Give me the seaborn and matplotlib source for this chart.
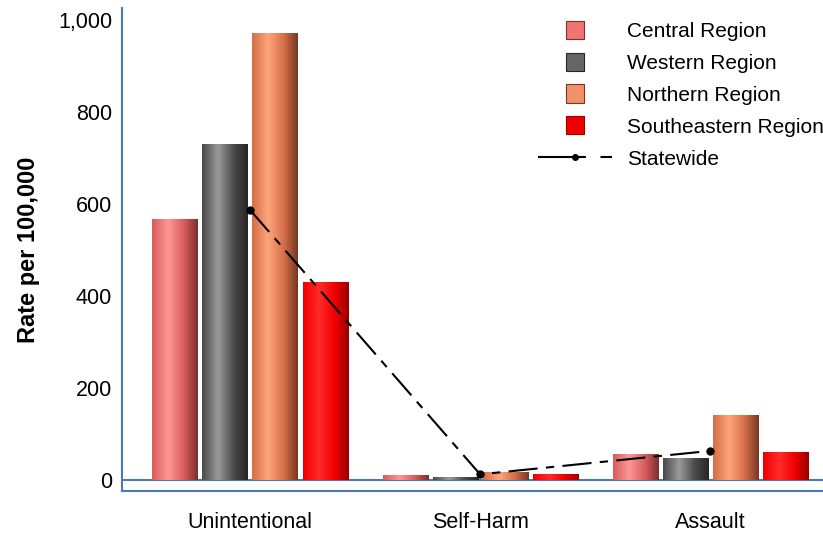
import numpy as np
import pandas as pd
import matplotlib.pyplot as plt
import seaborn as sns
from matplotlib.colors import LinearSegmentedColormap
from matplotlib.patches import Patch, Rectangle
from matplotlib.lines import Line2D
from matplotlib.legend_handler import HandlerPatch

# data
categories = ['Unintentional', 'Self-Harm', 'Assault']
regions = ['Central Region', 'Western Region', 'Northern Region', 'Southeastern Region']
central = [567, 10, 56]
western = [730, 7, 48]
northern = [972, 18, 140]
southeastern = [430, 12, 60]
statewide = [587, 12, 63]
yticks = [0, 200, 400, 600, 800, 1000]
ytick_labels = ['0', '200', '400', '600', '800', '1,000']

# bar colours: (base, highlight, right shadow)
shades = {
    'Central Region': ('#d85c5c', '#ff9696', '#7e2f2f'),
    'Western Region': ('#4a4a4a', '#9a9a9a', '#262626'),
    'Northern Region': ('#d46e48', '#ffa57c', '#773824'),
    'Southeastern Region': ('#f00000', '#ff2a2a', '#9a0000'),
}
mid_colors = ['#f07474', '#666666', '#f39068', '#ee0000']

df = pd.DataFrame({
    'category': np.repeat(categories, len(regions)),
    'region': regions * len(categories),
    'rate': [v for trio in zip(central, western, northern, southeastern) for v in trio],
})

plt.rcParams['font.family'] = ['Liberation Sans', 'DejaVu Sans']
fig = plt.figure(figsize=(8.23, 5.33), dpi=100)
ax = fig.add_axes([0.148, 0.079, 0.852, 0.906])

sns.barplot(data=df, x='category', y='rate', hue='region', order=categories,
            hue_order=regions, palette=mid_colors, width=0.87, gap=0.1,
            ax=ax, legend=False, edgecolor='none')

# cylinder look: horizontal gradient clipped to each bar
grad = np.linspace(0, 1, 64).reshape(1, -1)
for container, reg in zip(ax.containers, regions):
    base_c, hi_c, right_c = shades[reg]
    cmap = LinearSegmentedColormap.from_list(reg, [(0, base_c), (0.35, hi_c), (0.7, base_c), (1, right_c)])
    for bar in container:
        x0, y0 = bar.get_x(), bar.get_y()
        w, h = bar.get_width(), bar.get_height()
        im = ax.imshow(grad, cmap=cmap, aspect='auto', extent=(x0, x0 + w, y0, y0 + h),
                       zorder=bar.get_zorder() + 0.1, interpolation='bicubic')
        im.set_clip_path(bar)

# statewide line
ax.plot(categories, statewide, color='black', lw=1.5, marker='o', markersize=5,
        dashes=[14, 4, 4, 4], zorder=5)

ax.set_xlim(-0.557, 2.49)
ax.set_ylim(-24, 1026)
ax.axhline(0, color='#4a7ab5', lw=1.5, zorder=1)

ax.set_yticks(yticks)
ax.set_yticklabels(ytick_labels)
ax.tick_params(axis='both', length=0, labelsize=15.5)
ax.tick_params(axis='x', pad=15)
ax.tick_params(axis='y', pad=7)
ax.set_xlabel('')
ax.set_ylabel('Rate per 100,000', fontsize=17, fontweight='bold', labelpad=13)

for side in ['top', 'right']:
    ax.spines[side].set_visible(False)
for side in ['left', 'bottom']:
    ax.spines[side].set_color('#4a7ab5')
    ax.spines[side].set_linewidth(1.5)


def small_square(legend, orig_handle, xdescent, ydescent, width, height, fontsize):
    s = 13
    return Rectangle((width / 2 - s / 2 - xdescent, height / 2 - s / 2 - ydescent), s, s)


handles = [Patch(facecolor=c, edgecolor=shades[r][2], linewidth=0.8) for c, r in zip(mid_colors, regions)]
handles.append(Line2D([], [], color='black', lw=1.5, marker='o', markersize=4,
                      dashes=[18, 1, 4, 7, 6, 20]))
leg = ax.legend(handles, regions + ['Statewide'], loc='upper left', bbox_to_anchor=(0.593, 0.973),
                frameon=False, fontsize=15, handlelength=3.55, handleheight=0.9,
                labelspacing=0.58, handletextpad=0.75, borderpad=0, borderaxespad=0,
                numpoints=1, handler_map={Patch: HandlerPatch(patch_func=small_square)})

fig.savefig('out.png', dpi=100)
